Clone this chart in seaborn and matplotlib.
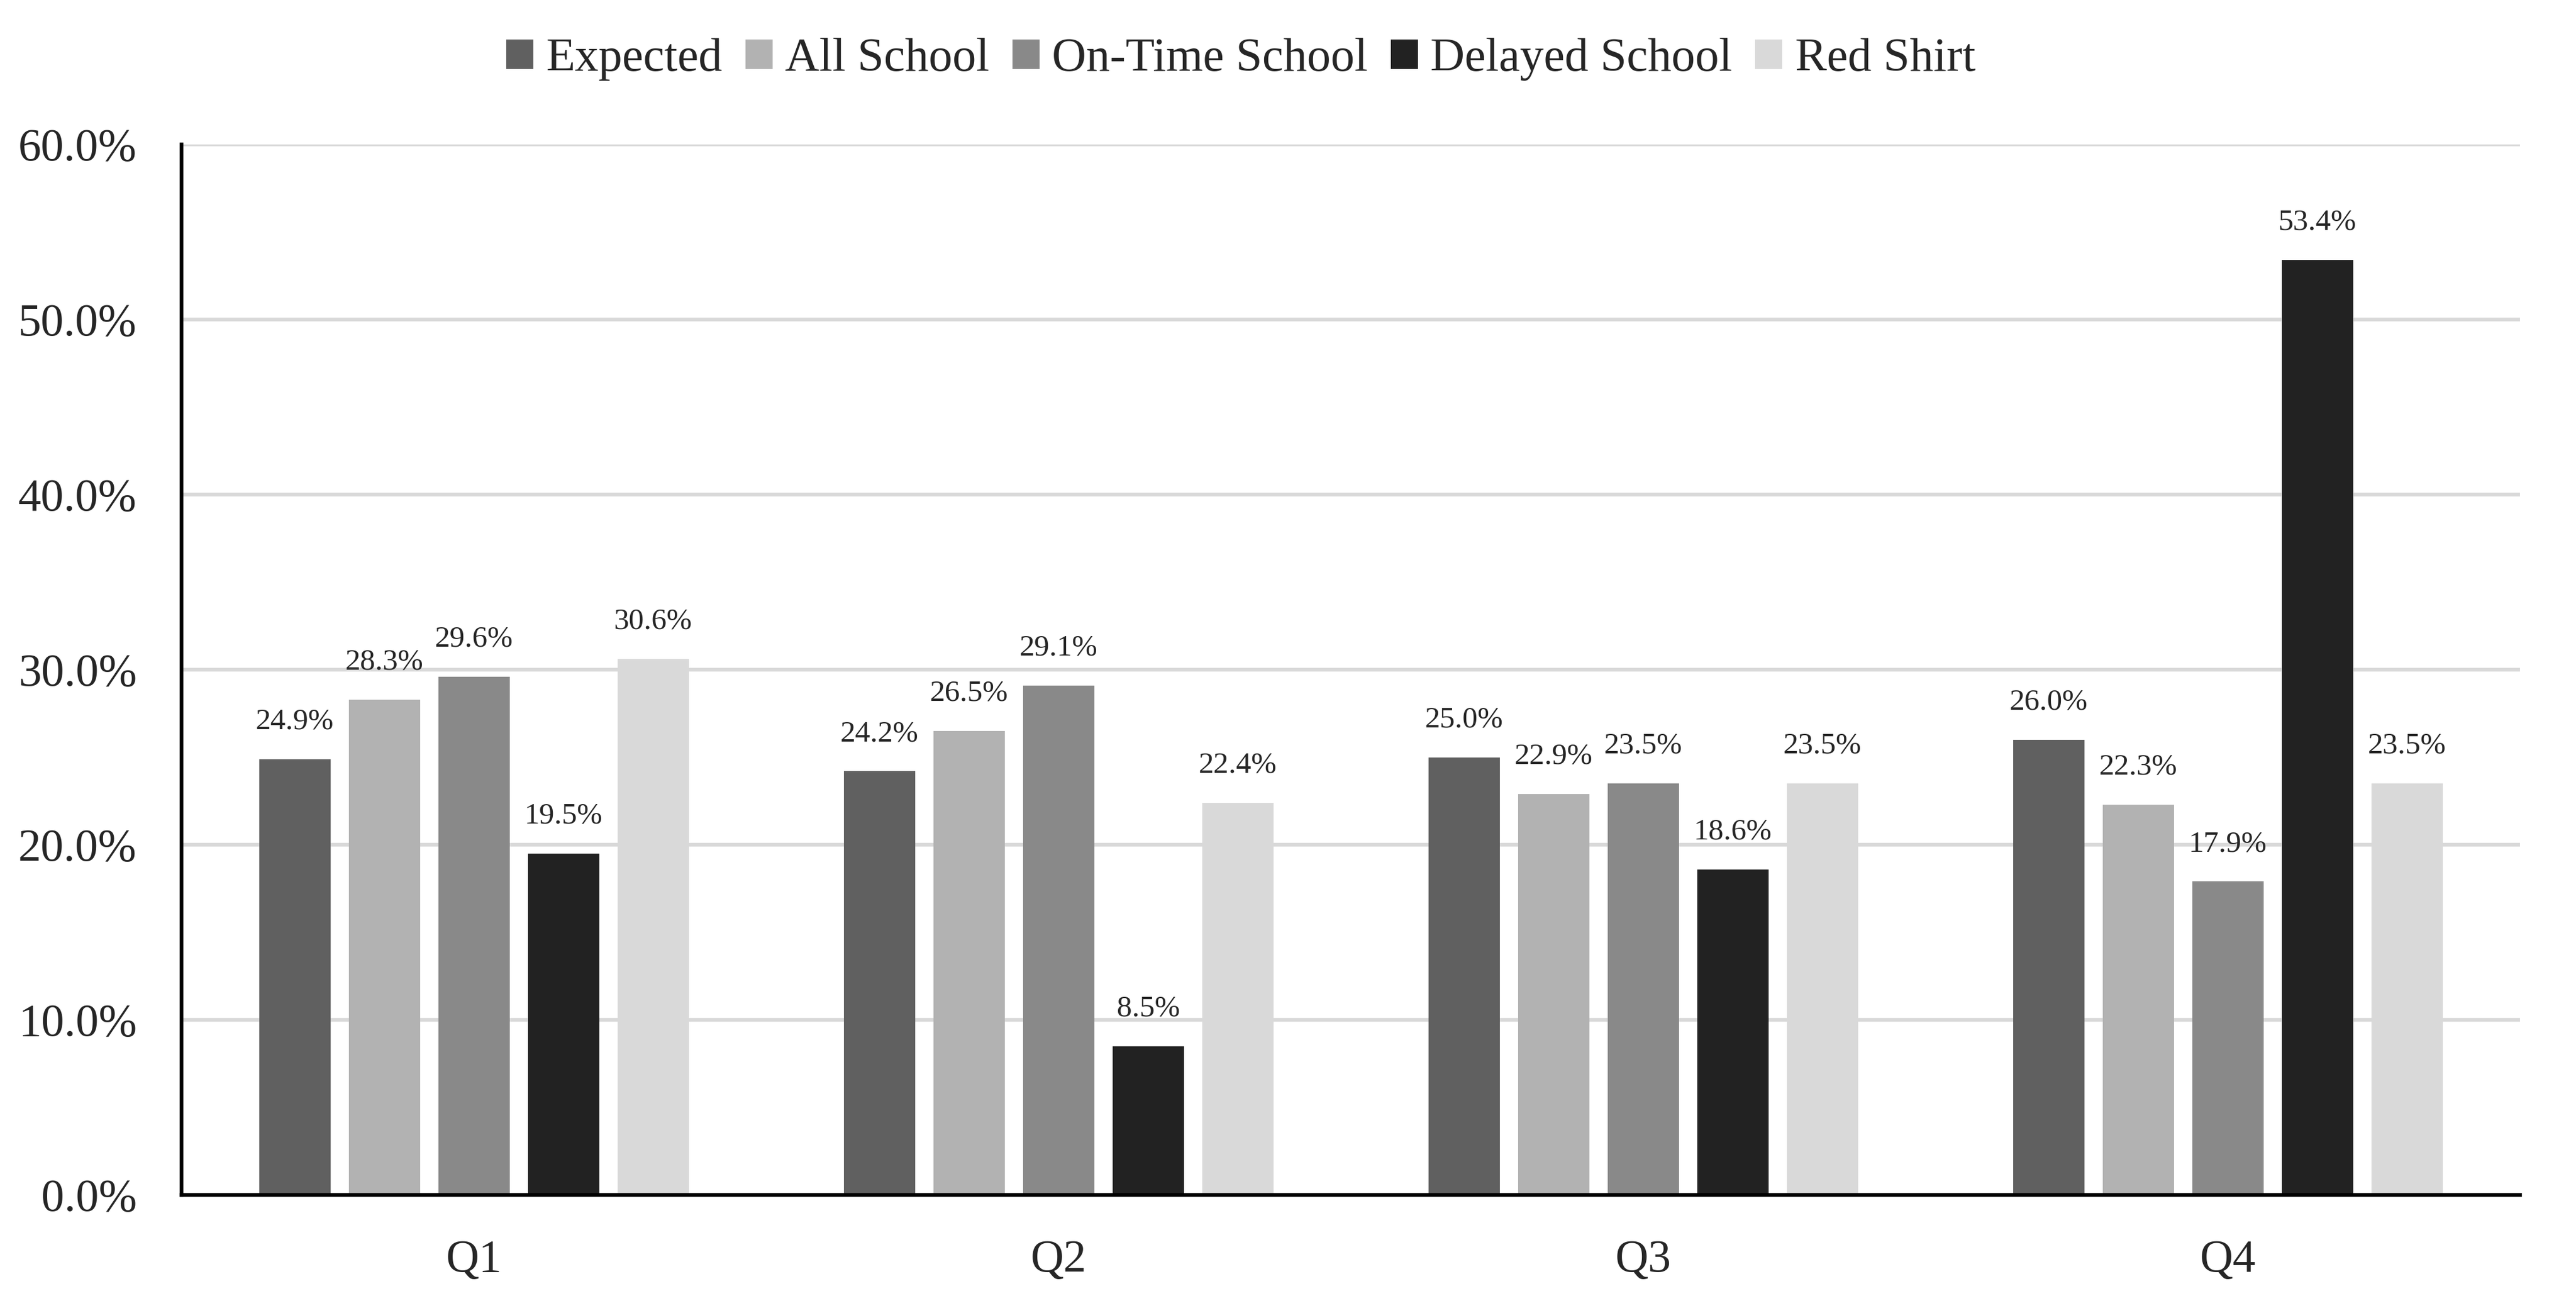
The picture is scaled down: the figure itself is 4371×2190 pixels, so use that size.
import numpy as np
import pandas as pd
import seaborn as sns
import matplotlib.pyplot as plt

quarters = ["Q1", "Q2", "Q3", "Q4"]
groups = ["Expected", "All School", "On-Time School", "Delayed School", "Red Shirt"]
expected = [24.9, 24.2, 25.0, 26.0]
all_school = [28.3, 26.5, 22.9, 22.3]
on_time = [29.6, 29.1, 23.5, 17.9]
delayed = [19.5, 8.5, 18.6, 53.4]
red_shirt = [30.6, 22.4, 23.5, 23.5]
colors = ["#606060", "#b2b2b2", "#898989", "#222222", "#d9d9d9"]

series = [expected, all_school, on_time, delayed, red_shirt]
df = pd.DataFrame(
    [(q, g, v) for g, vals in zip(groups, series) for q, v in zip(quarters, vals)],
    columns=["quarter", "group", "value"],
)

sns.set_style("white")
plt.rcParams["font.family"] = ["Liberation Serif", "DejaVu Serif"]

fig = plt.figure(figsize=(43.71, 21.90), dpi=100)
ax = fig.add_axes([0.0705, 0.0744, 0.9078, 0.8137])

sns.barplot(data=df, x="quarter", y="value", hue="group", hue_order=groups,
            palette=colors, saturation=1, width=0.766, gap=0.204,
            linewidth=0, ax=ax)

# value labels above bars
for cont in ax.containers:
    ax.bar_label(cont, fmt="%.1f%%", padding=29, fontsize=37)

ax.set_ylim(0, 60)
ax.set_xlim(-0.5, 3.5)
ax.set_yticks(np.arange(0, 61, 10))
ax.set_yticklabels([f"{t:.1f}%" for t in np.arange(0, 61, 10)])
ax.set_xlabel("")
ax.set_ylabel("")
ax.yaxis.grid(True, color="#d9d9d9", linewidth=4.6)
ax.set_axisbelow(True)
ax.tick_params(axis="y", length=0, pad=55, labelsize=56)
ax.tick_params(axis="x", length=0, pad=54, labelsize=56)

for side in ["top", "right"]:
    ax.spines[side].set_visible(False)
for side in ["left", "bottom"]:
    ax.spines[side].set_color("black")
    ax.spines[side].set_linewidth(4.6)

handles, labels = ax.get_legend_handles_labels()
ax.legend(handles, labels, loc="center", bbox_to_anchor=(0.4817, 0.954),
          bbox_transform=fig.transFigure, ncol=5, frameon=False, fontsize=58,
          handlelength=0.57, handleheight=0.57, handletextpad=0.27,
          columnspacing=0.48)

fig.savefig("out.png", dpi=100)
